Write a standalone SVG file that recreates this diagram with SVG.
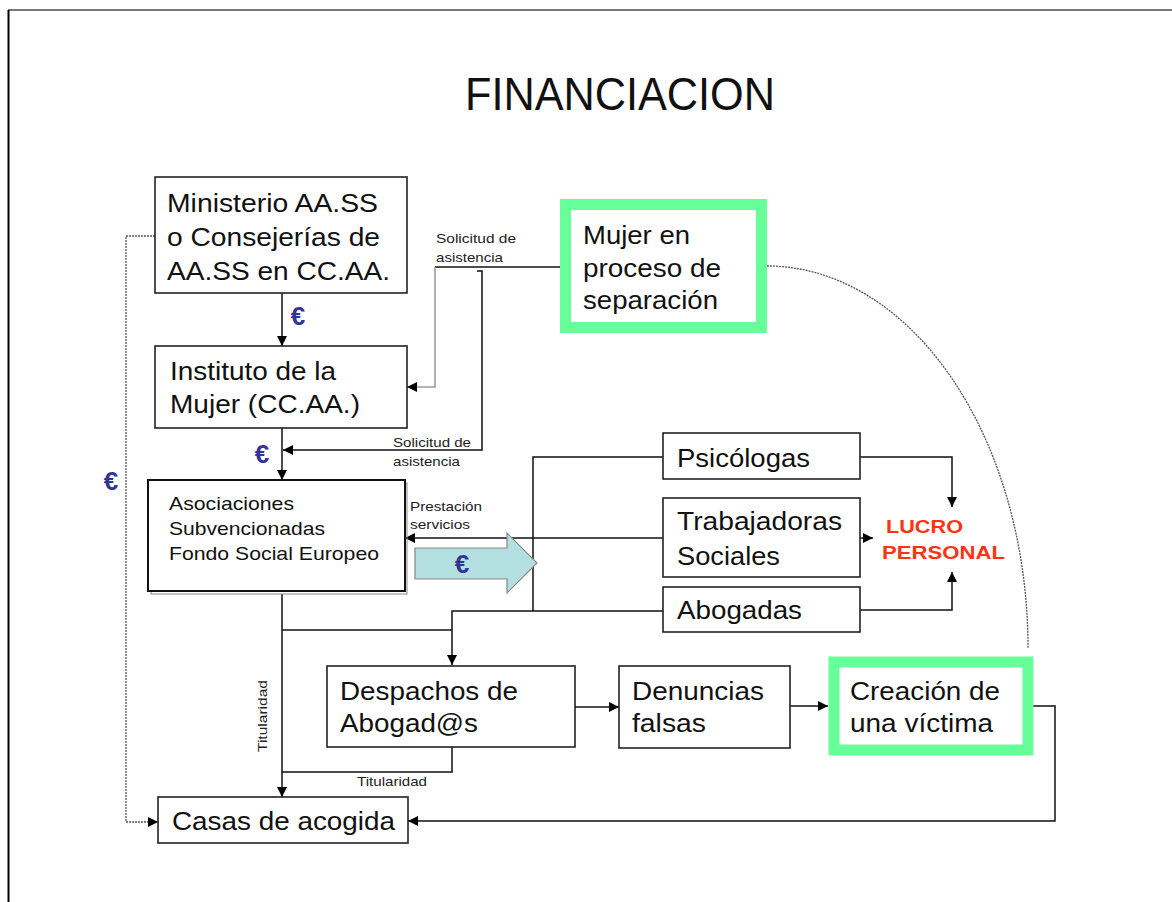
<svg xmlns="http://www.w3.org/2000/svg" width="1172" height="902" viewBox="0 0 1172 902">
<style>
text{font-family:"Liberation Sans",Arial,sans-serif;fill:#111}
.box{fill:#fff;stroke:#222;stroke-width:1.6}
.gbox{fill:#fff;stroke:#66ff99;stroke-width:11}
.t26{font-size:25px}
.t20{font-size:19px}
.sm{font-size:13.5px;fill:#222}
.eur{font-size:26px;font-weight:bold;fill:#333399}
.lucro{font-size:19px;font-weight:bold;fill:#ff3311}
.c{fill:none;stroke:#111;stroke-width:1.5}
.g{fill:none;stroke:#999;stroke-width:1.5}
.dot{fill:none;stroke:#555;stroke-width:1.3;stroke-dasharray:2 1}
</style>
<defs>
<marker id="ah" viewBox="0 0 10 10" refX="10" refY="5" markerWidth="11" markerHeight="10" markerUnits="userSpaceOnUse" orient="auto">
<path d="M0,0 L10,5 L0,10 z" fill="#000"/>
</marker>
</defs>
<rect width="1172" height="902" fill="#fff"/>
<line x1="8" y1="10" x2="1172" y2="10" stroke="#777" stroke-width="2"/>
<line x1="8.5" y1="10" x2="8.5" y2="902" stroke="#000" stroke-width="2"/>
<text x="465" y="110" font-size="46" textLength="310" lengthAdjust="spacingAndGlyphs">FINANCIACION</text>

<g id="connectors">
<path class="c" d="M282,293 V346" marker-end="url(#ah)"/>
<path class="c" d="M282,428 V480" marker-end="url(#ah)"/>
<path class="c" d="M560,267 H435" stroke="#333"/>
<path class="g" d="M435,267 V387 H407" marker-end="url(#ah)"/>
<path class="c" d="M477,271 H482 V450 H283" marker-end="url(#ah)"/>
<path class="c" d="M663,538 H405" marker-end="url(#ah)"/>
<path class="c" d="M663,457 H533 V611"/>
<path class="c" d="M663,611 H452 V665" marker-end="url(#ah)"/>
<path class="c" d="M282,594 V797" marker-end="url(#ah)"/>
<path class="c" d="M282,630 H452"/>
<path class="c" d="M452,747 V772 H282"/>
<path class="c" d="M575,707 H619" marker-end="url(#ah)"/>
<path class="c" d="M790,706 H828" stroke="#555" marker-end="url(#ah)"/>
<path class="c" d="M1033,706 H1055 V821 H408" marker-end="url(#ah)"/>
<path class="dot" d="M155,236 H126 V822 H158" marker-end="url(#ah)"/>
<path class="c" d="M860,457 H952 V507" marker-end="url(#ah)"/>
<path class="c" d="M860,538 H873" marker-end="url(#ah)"/>
<path class="c" d="M860,610 H952 V572" marker-end="url(#ah)"/>
<path class="dot" d="M767,266 A261,382 0 0 1 1028,648"/>
<polygon points="415,548 507,548 507,533 537,563 507,593 507,579 415,579" fill="#b3dfe0" stroke="#888" stroke-width="1.2"/>
<text class="eur" x="462" y="573" text-anchor="middle" font-size="29">€</text>
<text class="eur" x="298" y="325" text-anchor="middle">€</text>
<text class="eur" x="262" y="463" text-anchor="middle">€</text>
<text class="eur" x="111" y="490" text-anchor="middle">€</text>
<text class="sm" x="436" y="243" textLength="80" lengthAdjust="spacingAndGlyphs">Solicitud de</text>
<text class="sm" x="436" y="262" textLength="67" lengthAdjust="spacingAndGlyphs">asistencia</text>
<text class="sm" x="393" y="447" textLength="78" lengthAdjust="spacingAndGlyphs">Solicitud de</text>
<text class="sm" x="393" y="466" textLength="67" lengthAdjust="spacingAndGlyphs">asistencia</text>
<text class="sm" x="410" y="511" textLength="72" lengthAdjust="spacingAndGlyphs">Prestación</text>
<text class="sm" x="410" y="529" textLength="60" lengthAdjust="spacingAndGlyphs">servicios</text>
<text class="sm" x="357" y="786" textLength="70" lengthAdjust="spacingAndGlyphs">Titularidad</text>
<text class="sm" transform="translate(267,752) rotate(-90)" textLength="72" lengthAdjust="spacingAndGlyphs">Titularidad</text>
</g>

<g id="ministerio">
<rect class="box" x="155" y="177" width="252" height="116"/>
<text class="t26" x="167" y="212" textLength="211" lengthAdjust="spacingAndGlyphs">Ministerio AA.SS</text>
<text class="t26" x="167" y="246" textLength="213" lengthAdjust="spacingAndGlyphs">o Consejerías de</text>
<text class="t26" x="167" y="280" textLength="223" lengthAdjust="spacingAndGlyphs">AA.SS en CC.AA.</text>
</g>

<g id="instituto">
<rect class="box" x="155" y="346" width="252" height="82"/>
<text class="t26" x="170" y="380" textLength="166" lengthAdjust="spacingAndGlyphs">Instituto de la</text>
<text class="t26" x="170" y="413" textLength="190" lengthAdjust="spacingAndGlyphs">Mujer (CC.AA.)</text>
</g>

<g id="mujer">
<rect class="gbox" x="565.5" y="204.5" width="196" height="123"/>
<text class="t26" x="583" y="244" textLength="107" lengthAdjust="spacingAndGlyphs">Mujer en</text>
<text class="t26" x="583" y="277" textLength="138" lengthAdjust="spacingAndGlyphs">proceso de</text>
<text class="t26" x="583" y="309" textLength="135" lengthAdjust="spacingAndGlyphs">separación</text>
</g>

<g id="asociaciones">
<rect x="151" y="483" width="256" height="111" fill="none" stroke="#888" stroke-width="1"/>
<rect x="148" y="480" width="257" height="111" fill="#fff" stroke="#111" stroke-width="2"/>
<text class="t20" x="169" y="510" textLength="125" lengthAdjust="spacingAndGlyphs">Asociaciones</text>
<text class="t20" x="169" y="535" textLength="156" lengthAdjust="spacingAndGlyphs">Subvencionadas</text>
<text class="t20" x="169" y="560" textLength="210" lengthAdjust="spacingAndGlyphs">Fondo Social Europeo</text>
</g>

<g id="psicologas">
<rect class="box" x="663" y="433" width="197" height="46"/>
<text class="t26" x="677" y="467" textLength="133" lengthAdjust="spacingAndGlyphs">Psicólogas</text>
</g>

<g id="trabajadoras">
<rect class="box" x="663" y="498" width="197" height="79"/>
<text class="t26" x="677" y="530" textLength="165" lengthAdjust="spacingAndGlyphs">Trabajadoras</text>
<text class="t26" x="677" y="565" textLength="103" lengthAdjust="spacingAndGlyphs">Sociales</text>
</g>

<g id="abogadas">
<rect class="box" x="663" y="587" width="197" height="45"/>
<text class="t26" x="677" y="619" textLength="125" lengthAdjust="spacingAndGlyphs">Abogadas</text>
</g>

<g id="lucro">
<text class="lucro" x="886" y="533" textLength="77" lengthAdjust="spacingAndGlyphs">LUCRO</text>
<text class="lucro" x="882" y="559" textLength="123" lengthAdjust="spacingAndGlyphs">PERSONAL</text>
</g>

<g id="despachos">
<rect class="box" x="327" y="666" width="248" height="81"/>
<text class="t26" x="340" y="700" textLength="178" lengthAdjust="spacingAndGlyphs">Despachos de</text>
<text class="t26" x="340" y="732" textLength="138" lengthAdjust="spacingAndGlyphs">Abogad@s</text>
</g>

<g id="denuncias">
<rect class="box" x="619" y="666" width="171" height="82"/>
<text class="t26" x="632" y="700" textLength="132" lengthAdjust="spacingAndGlyphs">Denuncias</text>
<text class="t26" x="632" y="732" textLength="74" lengthAdjust="spacingAndGlyphs">falsas</text>
</g>

<g id="creacion">
<rect class="gbox" x="834" y="662" width="194" height="88"/>
<text class="t26" x="850" y="700" textLength="150" lengthAdjust="spacingAndGlyphs">Creación de</text>
<text class="t26" x="850" y="732" textLength="143" lengthAdjust="spacingAndGlyphs">una víctima</text>
</g>

<g id="casas">
<rect class="box" x="158" y="797" width="250" height="46"/>
<text class="t26" x="172" y="830" textLength="223" lengthAdjust="spacingAndGlyphs">Casas de acogida</text>
</g>
</svg>
